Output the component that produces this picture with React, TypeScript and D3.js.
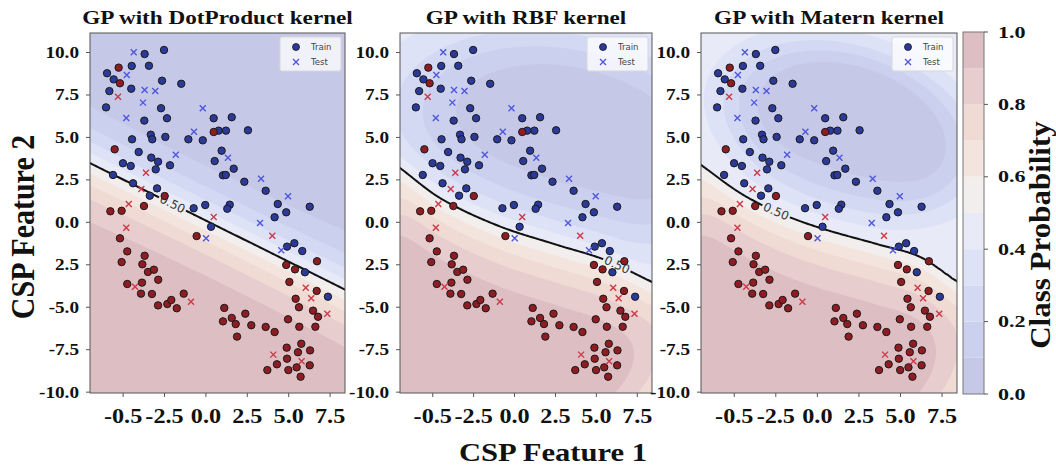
import React, { useMemo } from "react";
import * as d3 from "d3";

// ---------------- data (CSP feature space) ----------------
const blueTrain: [number, number][] = [
  [-3.7, 9.91], [-2.53, 10.15], [-4.48, 9.21], [-3.44, 9.22], [-5.97, 8.78], [-5.57, 8.42], [-2.65, 8.34],
  [-1.49, 8.16], [-5.83, 7.73], [-4.51, 7.87], [-6.03, 6.77], [-2.71, 6.72], [-2.35, 6.13], [-3.72, 5.99],
  [0.47, 6.13], [1.56, 6.19], [-3.33, 5.16], [-3.24, 4.89], [-2.45, 5.03], [-4.46, 4.89], [-1.06, 4.89],
  [-0.19, 4.83], [0.77, 5.4], [1.21, 5.4], [2.54, 5.42], [-4.06, 4.14], [-3.3, 3.81], [-2.89, 3.57],
  [-5.01, 3.48], [-4.54, 3.32], [-2.17, 3.36], [-3.03, 3.12], [0.95, 4.22], [0.53, 3.61], [1.68, 3.16],
  [1.03, 2.77], [1.2, 2.79], [2.32, 2.39], [3.61, 1.86], [-5.61, 2.79], [-4.4, 2.3], [-2.95, 2.0],
  [-3.39, 1.57], [-0.74, 0.83], [-0.04, 1.02], [1.44, 1.04], [1.29, 0.8], [0.31, -0.26], [4.34, 1.08],
  [4.85, 0.59], [4.15, 0.3], [6.27, 0.92], [4.9, -1.43], [5.34, -1.23], [5.82, -1.69], [5.98, -2.94],
  [7.37, -4.38],
];
const redTrain: [number, number][] = [
  [-5.27, 9.11], [-5.19, 8.19], [0.47, 5.32], [-5.51, 4.3], [-2.49, 1.55], [-5.77, 0.65], [-5.09, 0.68],
  [-3.74, 0.96], [-0.56, -0.81], [-5.19, -0.94], [-4.75, -1.71], [-3.7, -1.97], [-5.09, -2.34],
  [-3.84, -2.47], [-3.5, -2.92], [-3.14, -2.79], [-2.88, -3.38], [-4.75, -3.63], [-3.86, -3.55],
  [-3.92, -4.2], [-3.26, -4.22], [-2.89, -4.89], [-2.33, -4.81], [-2.09, -4.57], [-1.76, -5.06],
  [-1.34, -4.2], [1.11, -5.04], [1.03, -5.83], [1.56, -5.63], [1.8, -5.99], [2.38, -5.38], [1.88, -6.73],
  [2.74, -6.06], [3.61, -6.16], [4.15, -6.46], [4.85, -2.51], [5.38, -2.77], [5.04, -3.51], [6.71, -2.29],
  [5.42, -4.5], [5.62, -5.0], [6.69, -4.04], [6.47, -5.2], [6.77, -5.56], [4.96, -5.71], [5.64, -6.15],
  [6.61, -6.15], [4.88, -7.38], [5.76, -7.15], [6.29, -7.54], [5.56, -7.65], [4.9, -8.03], [4.29, -8.36],
  [4.98, -8.7], [3.71, -8.7], [5.48, -8.54], [6.27, -8.42], [5.72, -9.09],
];
const blueTest: [number, number][] = [
  [-4.36, 10.01], [-4.78, 8.68], [-3.7, 7.79], [-3.06, 7.73], [-3.8, 7.05], [-4.81, 6.14], [-0.19, 6.72],
  [-0.72, 5.34], [-1.82, 3.98], [1.33, 3.81], [3.33, 2.57], [4.96, 1.53], [3.27, -0.04], [0.01, -0.94],
  [4.55, -1.65],
];
const redTest: [number, number][] = [
  [-5.31, 7.4], [-3.62, 2.92], [-3.9, 1.96], [-4.66, 1.08], [-4.81, -0.32], [0.47, 0.31], [4.01, -0.79],
  [-4.28, -3.79], [-0.9, -4.67], [6.03, -3.85], [6.36, -4.47], [7.33, -5.38], [4.07, -7.79], [5.78, -8.18],
];

// decision boundaries (p = 0.5) of the RBF and Matern models
const rbfBoundary: [number, number][] = [
  [-7, 3.2], [-4.5, 1.4], [-1, -0.2], [2.6, -1.33], [5.5, -2.2], [8.4, -3.51],
];
const maternBoundary: [number, number][] = [
  [-7, 3.38], [-4.65, 1.73], [-2.43, 0.61], [0.16, -0.33], [3.77, -1.33], [6.2, -2.05], [8.4, -3.51],
];

const panelTitles = ["GP with DotProduct kernel", "GP with RBF kernel", "GP with Matern kernel"];
const xTickValues = [-5, -2.5, 0, 2.5, 5, 7.5];
const xTickLabels = ["-0.5", "-2.5", "0.0", "2.5", "5.0", "7.5"];
const yTickValues = [10, 7.5, 5, 2.5, 0, -2.5, -5, -7.5, -10];
const yTickLabels = ["10.0", "7.5", "5.0", "2.5", "0.0", "2.5", "-5.0", "-7.5", "-10.0"];
const levels = [0, 0.1, 0.2, 0.3, 0.4, 0.5, 0.6, 0.7, 0.8, 0.9, 1.0];
const bandColors = [
  "#c5c9e7", "#cbd0ee", "#d3d9f3", "#dde2f7", "#e8ebf7",
  "#f2eeee", "#f3e5de", "#efdad4", "#e7cdce", "#ddbfc3",
];
const colorbarTicks = [0, 0.2, 0.4, 0.6, 0.8, 1.0];
const colorbarTickLabels = ["0.0", "0.2", "0.4", "0.6", "0.8", "1.0"];

// ---------------- layout ----------------
const W = 1056;
const H = 470;
const TOP = 33;
const BOTTOM = 393;
const X_DOMAIN: [number, number] = [-7, 8.4];
const Y_DOMAIN: [number, number] = [-10.05, 11.15];
const SERIF = "'Liberation Serif','Times New Roman',Times,serif";
const SANS = "'DejaVu Sans',Verdana,sans-serif";

type Vec = [number, number];
type Kernel = (a: Vec, b: Vec) => number;
type Ell = { cx: number; cy: number; a: number; b: number; theta: number; kappa: number };

const sigmoid = (z: number) => 1 / (1 + Math.exp(-z));
const LOGIT9 = Math.log(9);

// ---------------- GP classifier with DotProduct kernel (Laplace approximation) ----------------
const dotKernel: Kernel = (a, b) => 1.0 * (1 + a[0] * b[0] + a[1] * b[1]);

function cholesky(A: number[][]): number[][] {
  const n = A.length;
  const L = Array.from({ length: n }, () => new Array(n).fill(0));
  for (let i = 0; i < n; i++) {
    for (let j = 0; j <= i; j++) {
      let s = A[i][j];
      for (let k = 0; k < j; k++) s -= L[i][k] * L[j][k];
      if (i === j) L[i][i] = Math.sqrt(Math.max(s, 1e-12));
      else L[i][j] = s / L[j][j];
    }
  }
  return L;
}
function solveL(L: number[][], b: number[]): number[] {
  const n = b.length;
  const x = new Array(n);
  for (let i = 0; i < n; i++) {
    let s = b[i];
    const Li = L[i];
    for (let k = 0; k < i; k++) s -= Li[k] * x[k];
    x[i] = s / Li[i];
  }
  return x;
}
function solveLT(L: number[][], b: number[]): number[] {
  const n = b.length;
  const x = new Array(n);
  for (let i = n - 1; i >= 0; i--) {
    let s = b[i];
    for (let k = i + 1; k < n; k++) s -= L[k][i] * x[k];
    x[i] = s / L[i][i];
  }
  return x;
}

function fitGPC(X: Vec[], y: number[], k: Kernel) {
  const n = X.length;
  const K = X.map((a) => X.map((b) => k(a, b)));
  let f = new Array(n).fill(0);
  let pi: number[] = [];
  let sw: number[] = [];
  let L: number[][] = [];
  const prep = () => {
    pi = f.map(sigmoid);
    sw = pi.map((p) => Math.sqrt(p * (1 - p)));
    const B = K.map((row, i) => row.map((v, j) => (i === j ? 1 : 0) + sw[i] * sw[j] * v));
    L = cholesky(B);
  };
  for (let it = 0; it < 30; it++) {
    prep();
    const b = f.map((fi, i) => pi[i] * (1 - pi[i]) * fi + (y[i] - pi[i]));
    const Kb = K.map((row) => row.reduce((s, v, j) => s + v * b[j], 0));
    const z = solveLT(L, solveL(L, Kb.map((v, i) => v * sw[i])));
    const a = b.map((bi, i) => bi - sw[i] * z[i]);
    f = K.map((row) => row.reduce((s, v, j) => s + v * a[j], 0));
  }
  prep();
  const resid = y.map((yi, i) => yi - pi[i]);
  return (x: Vec) => {
    const ks = X.map((xi) => k(x, xi));
    let fs = 0;
    for (let i = 0; i < n; i++) fs += ks[i] * resid[i];
    const v = solveL(L, ks.map((kv, i) => kv * sw[i]));
    let vv = 0;
    for (let i = 0; i < n; i++) vv += v[i] * v[i];
    const variance = Math.max(k(x, x) - vv, 0);
    return sigmoid(fs / Math.sqrt(1 + (Math.PI * variance) / 8));
  };
}

// ---------------- stationary-kernel probability surfaces ----------------
// smooth curve through the 0.5 isoline knots (Catmull-Rom in x)
function curveThrough(knots: Vec[]) {
  const n = knots.length;
  const m = knots.map((_, i) => {
    const a = knots[Math.max(0, i - 1)];
    const b = knots[Math.min(n - 1, i + 1)];
    return (b[1] - a[1]) / (b[0] - a[0]);
  });
  return (x: number) => {
    if (x <= knots[0][0]) return knots[0][1] + m[0] * (x - knots[0][0]);
    if (x >= knots[n - 1][0]) return knots[n - 1][1] + m[n - 1] * (x - knots[n - 1][0]);
    let i = 0;
    while (knots[i + 1][0] < x) i++;
    const [x0, y0] = knots[i];
    const [x1, y1] = knots[i + 1];
    const h = x1 - x0;
    const t = (x - x0) / h;
    const t2 = t * t;
    const t3 = t2 * t;
    return (2 * t3 - 3 * t2 + 1) * y0 + (t3 - 2 * t2 + t) * h * m[i] + (-2 * t3 + 3 * t2) * y1 + (t3 - t2) * h * m[i + 1];
  };
}
function ellQ(e: Ell, x: number, y: number) {
  const c = Math.cos((e.theta * Math.PI) / 180);
  const s = Math.sin((e.theta * Math.PI) / 180);
  const dx = x - e.cx;
  const dy = y - e.cy;
  const u = dx * c + dy * s;
  const v = -dx * s + dy * c;
  return (u / e.a) ** 2 + (v / e.b) ** 2;
}
const bowl = (e: Ell, x: number, y: number) => LOGIT9 * Math.exp(e.kappa * (1 - ellQ(e, x, y)));
const softMin = (a: number, b: number) => (a <= 0 || b <= 0 ? 0 : Math.pow(a ** -3 + b ** -3, -1 / 3));

function shapedField(boundary: Vec[], slope: number, blue: Ell, red: Ell) {
  const yb = curveThrough(boundary);
  return (p: Vec) => {
    const d = yb(p[0]) - p[1];
    const f = d >= 0 ? softMin(slope * d, bowl(red, p[0], p[1])) : -softMin(-slope * d, bowl(blue, p[0], p[1]));
    return sigmoid(f);
  };
}

const panels = [
  { left: 90, right: 345, labelX: 173, step: 3 },
  { left: 400, right: 652, labelX: 617, step: 2 },
  { left: 701, right: 957, labelX: 775, step: 2 },
];

function makeModel(idx: number): (p: Vec) => number {
  if (idx === 0) {
    const X: Vec[] = [...redTrain, ...blueTrain];
    const y = [...redTrain.map(() => 1), ...blueTrain.map(() => 0)];
    return fitGPC(X, y, dotKernel);
  }
  if (idx === 1) {
    return shapedField(
      rbfBoundary, 0.62,
      { cx: 3.4, cy: 4.85, a: 7.6, b: 4.3, theta: -12, kappa: 0.9 },
      { cx: -2, cy: -6, a: 10.1, b: 7, theta: 0, kappa: 2 }
    );
  }
  return shapedField(
    maternBoundary, 0.62,
    { cx: 2.0, cy: 5.5, a: 6.0, b: 3.7, theta: -18, kappa: 1.3 },
    { cx: -2, cy: -6.2, a: 9.7, b: 7.2, theta: 0, kappa: 2 }
  );
}

// ---------------- drawing helpers ----------------
function StretchText(props: {
  x: number; y: number; sx?: number; size: number; anchor?: string; children: React.ReactNode;
  rotate?: number; weight?: string | number; family?: string; fill?: string;
}) {
  const { x, y, sx = 1.2, size, anchor = "middle", rotate = 0, weight = "bold", family = SERIF, fill = "#111" } = props;
  const tf = rotate
    ? `translate(${x},${y}) rotate(${rotate}) scale(1,${sx})`
    : `translate(${x},${y}) scale(${sx},1)`;
  return (
    <text transform={tf} textAnchor={anchor as any} fontFamily={family} fontWeight={weight} fontSize={size} fill={fill}>
      {props.children}
    </text>
  );
}

function Panel({ idx }: { idx: number }) {
  const { left, right, labelX, step } = panels[idx];
  const width = right - left;
  const height = BOTTOM - TOP;
  const xs = d3.scaleLinear().domain(X_DOMAIN).range([left, right]);
  const ys = d3.scaleLinear().domain(Y_DOMAIN).range([BOTTOM, TOP]);

  const computed = useMemo(() => {
    const predict = makeModel(idx);
    const pad = 2;
    const nx = Math.ceil(width / step) + 2 * pad;
    const ny = Math.ceil(height / step) + 2 * pad;
    const values: number[] = new Array(nx * ny);
    for (let j = 0; j < ny; j++) {
      const py = TOP + (j - pad + 0.5) * step;
      const yv = ys.invert(py);
      for (let i = 0; i < nx; i++) {
        const px = left + (i - pad + 0.5) * step;
        values[j * nx + i] = predict([xs.invert(px), yv]);
      }
    }
    const gen = d3.contours().size([nx, ny]);
    const toPx = (g: number[]): [number, number] => [left + (g[0] - pad) * step, TOP + (g[1] - pad) * step];
    const path = d3.geoPath(
      d3.geoTransform({
        point(this: any, gx: number, gy: number) {
          const p = toPx([gx, gy]);
          this.stream.point(p[0], p[1]);
        },
      })
    );
    const bands = levels.slice(1, -1).map((t, k) => ({ d: path(gen.contour(values, t) as any) || "", color: bandColors[k + 1] }));
    const half = gen.contour(values, 0.5);
    const lineD = path(half as any) || "";
    // label spot on the 0.5 isoline
    let best: { p: [number, number]; ang: number } | null = null;
    let bestDist = Infinity;
    for (const poly of half.coordinates) {
      for (const ring of poly) {
        const pts = ring.map((g) => toPx(g));
        pts.forEach((p, i) => {
          if (p[0] < left + 6 || p[0] > right - 6 || p[1] < TOP + 6 || p[1] > BOTTOM - 6) return;
          const dd = Math.abs(p[0] - labelX);
          if (dd < bestDist) {
            const a = pts[Math.max(0, i - 4)];
            const b = pts[Math.min(pts.length - 1, i + 4)];
            let ang = (Math.atan2(b[1] - a[1], b[0] - a[0]) * 180) / Math.PI;
            if (ang > 90) ang -= 180;
            if (ang < -90) ang += 180;
            bestDist = dd;
            best = { p, ang };
          }
        });
      }
    }
    return { bands, lineD, label: best as { p: [number, number]; ang: number } | null };
  }, [idx]);

  const clipId = `clip-${idx}`;
  const maskId = `mask-${idx}`;
  const lab = computed.label;
  const legendX = right - 65;
  const legendY = TOP + 4;

  const xMark = (p: Vec, color: string, key: string) => {
    const cx = xs(p[0]);
    const cy = ys(p[1]);
    const s = 3;
    return (
      <path key={key} d={`M${cx - s},${cy - s}L${cx + s},${cy + s}M${cx - s},${cy + s}L${cx + s},${cy - s}`}
        stroke={color} strokeWidth={1.4} fill="none" />
    );
  };

  return (
    <g>
      <defs>
        <clipPath id={clipId}>
          <rect x={left} y={TOP} width={width} height={height} />
        </clipPath>
        <mask id={maskId} maskUnits="userSpaceOnUse" x={0} y={0} width={W} height={H}>
          <rect x={0} y={0} width={W} height={H} fill="white" />
          {lab && (
            <rect x={-15} y={-7} width={30} height={14} fill="black"
              transform={`translate(${lab.p[0]},${lab.p[1]}) rotate(${lab.ang})`} />
          )}
        </mask>
      </defs>
      <g clipPath={`url(#${clipId})`}>
        <rect x={left} y={TOP} width={width} height={height} fill={bandColors[0]} />
        {computed.bands.map((b, i) => (
          <path key={i} d={b.d} fill={b.color} stroke="none" />
        ))}
        <path d={computed.lineD} fill="none" stroke="#111" strokeWidth={2} strokeLinejoin="round" mask={`url(#${maskId})`} />
        {lab && (
          <text transform={`translate(${lab.p[0]},${lab.p[1]}) rotate(${lab.ang})`} textAnchor="middle"
            dominantBaseline="central" fontFamily={SANS} fontSize={12} fill="#3a3a3a">0.50</text>
        )}
        {blueTrain.map((p, i) => (
          <circle key={`bt${i}`} cx={xs(p[0])} cy={ys(p[1])} r={3.7} fill="#2b3a98" stroke="#1a1a1a" strokeWidth={1} />
        ))}
        {redTrain.map((p, i) => (
          <circle key={`rt${i}`} cx={xs(p[0])} cy={ys(p[1])} r={3.7} fill="#8e1c22" stroke="#1a1a1a" strokeWidth={1} />
        ))}
        {blueTest.map((p, i) => xMark(p, "#4f56dc", `bx${i}`))}
        {redTest.map((p, i) => xMark(p, "#cc3848", `rx${i}`))}
      </g>
      <rect x={left} y={TOP} width={width} height={height} fill="none" stroke="#555" strokeWidth={1} />
      {/* legend */}
      <rect x={legendX} y={legendY} width={61} height={34} rx={2} fill="#ffffff" fillOpacity={0.75} stroke="#d8d8d8" />
      <circle cx={legendX + 16} cy={legendY + 10} r={3.5} fill="#2b3a98" stroke="#1a1a1a" strokeWidth={0.8} />
      {xMark([xs.invert(legendX + 16), ys.invert(legendY + 25)], "#4f56dc", "lg")}
      <text x={legendX + 31} y={legendY + 10} dominantBaseline="central" fontFamily={SANS} fontSize={8.5} fill="#444">Train</text>
      <text x={legendX + 31} y={legendY + 25} dominantBaseline="central" fontFamily={SANS} fontSize={8.5} fill="#444">Test</text>
      {/* axes ticks */}
      {yTickValues.map((v, i) => (
        <g key={`yt${i}`}>
          <line x1={left - 4} x2={left} y1={ys(v)} y2={ys(v)} stroke="#555" />
          <StretchText x={left - 11} y={ys(v) + 5.5} size={16} anchor="end">{yTickLabels[i]}</StretchText>
        </g>
      ))}
      {xTickValues.map((v, i) => (
        <g key={`xt${i}`}>
          <line x1={xs(v)} x2={xs(v)} y1={BOTTOM} y2={BOTTOM + 4} stroke="#555" />
          <StretchText x={xs(v)} y={423} size={22} sx={1.1}>{xTickLabels[i]}</StretchText>
        </g>
      ))}
      <StretchText x={(left + right) / 2} y={24} size={19} sx={1.22}>{panelTitles[idx]}</StretchText>
    </g>
  );
}

function Colorbar() {
  const x0 = 963;
  const x1 = 984;
  const cs = d3.scaleLinear().domain([0, 1]).range([394, 32]);
  return (
    <g>
      {bandColors.map((c, i) => (
        <rect key={i} x={x0} y={cs(levels[i + 1])} width={x1 - x0} height={cs(levels[i]) - cs(levels[i + 1])} fill={c} />
      ))}
      <rect x={x0} y={32} width={x1 - x0} height={362} fill="none" stroke="#777" strokeWidth={1} />
      {colorbarTicks.map((v, i) => (
        <g key={i}>
          <line x1={x1} x2={x1 + 4} y1={cs(v)} y2={cs(v)} stroke="#555" />
          <StretchText x={998} y={cs(v) + 5.5} size={17} sx={1.3} anchor="start">{colorbarTickLabels[i]}</StretchText>
        </g>
      ))}
      <StretchText x={1050} y={235} size={31} sx={0.95} rotate={-90}>Class Probability</StretchText>
    </g>
  );
}

export default function App() {
  return (
    <svg width={W} height={H} viewBox={`0 0 ${W} ${H}`} style={{ position: "absolute", left: 0, top: 0, background: "#fff" }}>
      <rect x={0} y={0} width={W} height={H} fill="#fff" />
      {panels.map((_, i) => (
        <Panel key={i} idx={i} />
      ))}
      <Colorbar />
      <StretchText x={34} y={227} size={30} sx={1.15} rotate={-90}>CSP Feature 2</StretchText>
      <StretchText x={553} y={461} size={25.5}>CSP Feature 1</StretchText>
    </svg>
  );
}
